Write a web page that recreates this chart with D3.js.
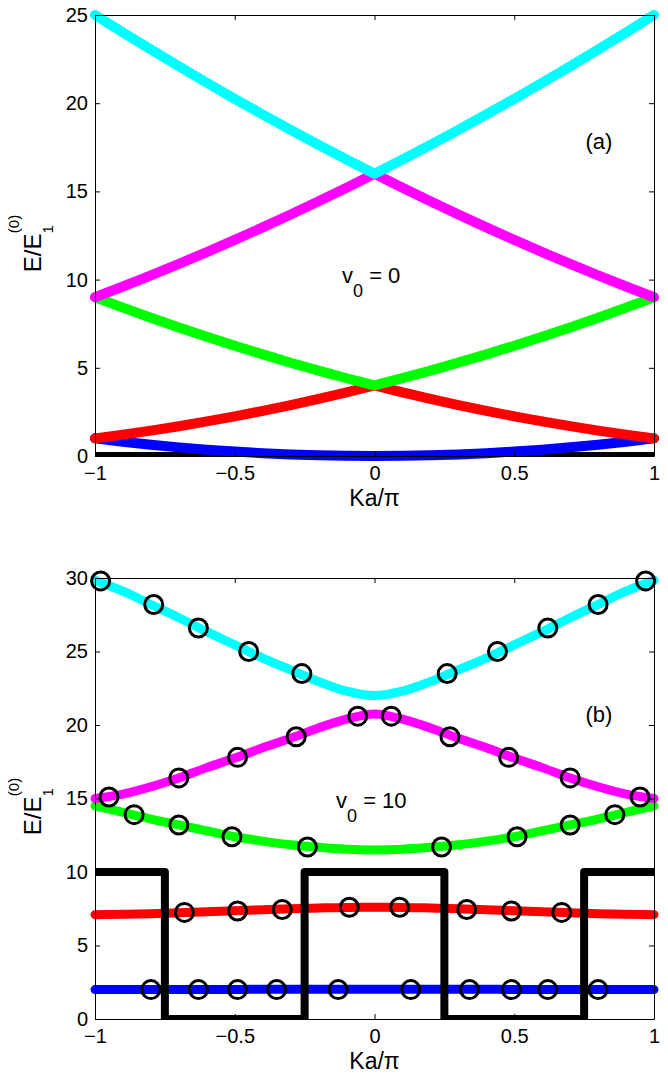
<!DOCTYPE html>
<html>
<head>
<meta charset="utf-8">
<script src="https://cdn.jsdelivr.net/npm/d3@7"></script>
<style>
  body { margin: 0; background: #fff; }
  svg { display: block; font-family: "Liberation Sans", Arial, Helvetica, sans-serif; }
</style>
</head>
<body>
<div id="chart"></div>
<script>
// wave vector grid, Ka/pi
const kGrid = [-1, -0.9, -0.8, -0.7, -0.6, -0.5, -0.4, -0.3, -0.2, -0.1, 0, 0.1, 0.2, 0.3, 0.4, 0.5, 0.6, 0.7, 0.8, 0.9, 1];

// panel (a), v0 = 0
const bandA1 = [1.0, 0.81, 0.64, 0.49, 0.36, 0.25, 0.16, 0.09, 0.04, 0.01, 0, 0.01, 0.04, 0.09, 0.16, 0.25, 0.36, 0.49, 0.64, 0.81, 1.0];
const bandA2 = [1.0, 1.21, 1.44, 1.69, 1.96, 2.25, 2.56, 2.89, 3.24, 3.61, 4.0, 3.61, 3.24, 2.89, 2.56, 2.25, 1.96, 1.69, 1.44, 1.21, 1.0];
const bandA3 = [9.0, 8.41, 7.84, 7.29, 6.76, 6.25, 5.76, 5.29, 4.84, 4.41, 4.0, 4.41, 4.84, 5.29, 5.76, 6.25, 6.76, 7.29, 7.84, 8.41, 9.0];
const bandA4 = [9.0, 9.61, 10.24, 10.89, 11.56, 12.25, 12.96, 13.69, 14.44, 15.21, 16.0, 15.21, 14.44, 13.69, 12.96, 12.25, 11.56, 10.89, 10.24, 9.61, 9.0];
const bandA5 = [25.0, 24.01, 23.04, 22.09, 21.16, 20.25, 19.36, 18.49, 17.64, 16.81, 16.0, 16.81, 17.64, 18.49, 19.36, 20.25, 21.16, 22.09, 23.04, 24.01, 25.0];
const potAx = [-1, 1];
const potAy = [0, 0];

// panel (b), v0 = 10
const bandB1 = [2.0, 2.0, 2.0, 2.0, 2.01, 2.01, 2.02, 2.02, 2.03, 2.03, 2.03, 2.03, 2.03, 2.02, 2.02, 2.01, 2.01, 2.0, 2.0, 2.0, 2.0];
const bandB2 = [7.1, 7.12, 7.16, 7.22, 7.29, 7.36, 7.43, 7.5, 7.55, 7.59, 7.6, 7.59, 7.55, 7.5, 7.43, 7.36, 7.29, 7.22, 7.16, 7.12, 7.1];
const bandB3 = [14.5, 14.05, 13.6, 13.2, 12.8, 12.4, 12.1, 11.85, 11.68, 11.55, 11.5, 11.55, 11.68, 11.85, 12.1, 12.4, 12.8, 13.2, 13.6, 14.05, 14.5];
const bandB4 = [15.0, 15.3, 15.8, 16.4, 17.1, 17.75, 18.45, 19.1, 19.8, 20.4, 20.75, 20.4, 19.8, 19.1, 18.45, 17.75, 17.1, 16.4, 15.8, 15.3, 15.0];
const bandB5 = [29.85, 29.1, 28.2, 27.3, 26.35, 25.45, 24.55, 23.75, 22.95, 22.3, 22.0, 22.3, 22.95, 23.75, 24.55, 25.45, 26.35, 27.3, 28.2, 29.1, 29.85];
const potBx = [-1, -0.75, -0.75, -0.25, -0.25, 0.25, 0.25, 0.75, 0.75, 1];
const potBy = [10, 10, 0, 0, 10, 10, 0, 0, 10, 10];

// open circles in panel (b)
const circB1x = [-0.8, -0.63, -0.49, -0.35, -0.13, 0.13, 0.34, 0.49, 0.62, 0.8];
const circB1y = [2.0, 2.0, 2.0, 2.0, 2.0, 2.0, 2.0, 2.0, 2.0, 2.0];
const circB2x = [-0.68, -0.49, -0.33, -0.09, 0.09, 0.33, 0.49, 0.67];
const circB2y = [7.25, 7.35, 7.45, 7.6, 7.6, 7.45, 7.35, 7.25];
const circB3x = [-0.86, -0.7, -0.51, -0.24, 0.24, 0.51, 0.7, 0.86];
const circB3y = [13.9, 13.2, 12.4, 11.7, 11.7, 12.4, 13.2, 13.9];
const circB4x = [-0.95, -0.7, -0.49, -0.28, -0.06, 0.06, 0.27, 0.48, 0.7, 0.95];
const circB4y = [15.1, 16.4, 17.8, 19.2, 20.6, 20.6, 19.2, 17.8, 16.4, 15.1];
const circB5x = [-0.98, -0.79, -0.63, -0.45, -0.26, 0.26, 0.44, 0.62, 0.8, 0.97];
const circB5y = [29.8, 28.2, 26.6, 25.0, 23.5, 23.5, 25.0, 26.6, 28.2, 29.8];

const xTicks = [-1, -0.5, 0, 0.5, 1];
const yTicksA = [0, 5, 10, 15, 20, 25];
const yTicksB = [0, 5, 10, 15, 20, 25, 30];

const bandColors = ["#0000ff", "#ff0000", "#00ff00", "#ff00ff", "#00ffff"];

const W = 668, H = 1074;
const svg = d3.select("#chart").append("svg")
    .attr("width", W)
    .attr("height", H);

const fmt = d3.format("~g");

function drawPanel(opt) {
    const left = 95, right = 654;
    const x = d3.scaleLinear().domain([-1, 1]).range([left, right]);
    const y = d3.scaleLinear().domain(opt.yDomain).range([opt.bottom, opt.top]);
    const g = svg.append("g");

    const clipId = "clip" + opt.name;
    svg.append("clipPath").attr("id", clipId)
        .append("rect")
        .attr("x", left).attr("y", opt.top)
        .attr("width", right - left).attr("height", opt.bottom - opt.top);

    const smooth = d3.line()
        .x(d => x(d[0]))
        .y(d => y(d[1]))
        .curve(opt.curve);

    if (opt.potFirst) drawPot();

    opt.bands.forEach((b, i) => {
        g.append("path")
            .datum(kGrid.map((k, j) => [k, b[j]]))
            .attr("d", smooth)
            .attr("fill", "none")
            .attr("stroke", bandColors[i])
            .attr("stroke-width", opt.bandWidth)
            .attr("stroke-linecap", "round")
            .attr("stroke-linejoin", "round");
    });

    if (!opt.potFirst) drawPot();

    function drawPot() {
        const potLine = d3.line().x(d => x(d[0])).y(d => y(d[1]));
        g.append("path")
            .datum(opt.potX.map((v, j) => [v, opt.potY[j]]))
            .attr("d", potLine)
            .attr("clip-path", "url(#" + clipId + ")")
            .attr("fill", "none")
            .attr("stroke", "#000")
            .attr("stroke-width", 8)
            .attr("stroke-linejoin", "round");
    }

    (opt.circles || []).forEach(c => {
        g.selectAll(null)
            .data(c[0].map((v, j) => [v, c[1][j]]))
            .enter()
            .append("circle")
            .attr("cx", d => x(d[0]))
            .attr("cy", d => y(d[1]))
            .attr("r", 9)
            .attr("fill", "none")
            .attr("stroke", "#000")
            .attr("stroke-width", 3);
    });

    // axes, ticks pointing inward like matlab
    g.append("g").attr("transform", `translate(0,${opt.bottom})`)
        .call(d3.axisBottom(x).tickValues(xTicks).tickFormat(fmt).tickSizeInner(-5).tickSizeOuter(0).tickPadding(10));
    g.append("g").attr("transform", `translate(0,${opt.top})`)
        .call(d3.axisTop(x).tickValues(xTicks).tickFormat("").tickSizeInner(-5).tickSizeOuter(0));
    g.append("g").attr("transform", `translate(${left},0)`)
        .call(d3.axisLeft(y).tickValues(opt.yTicks).tickFormat(fmt).tickSizeInner(-5).tickSizeOuter(0).tickPadding(7));
    g.append("g").attr("transform", `translate(${right},0)`)
        .call(d3.axisRight(y).tickValues(opt.yTicks).tickFormat("").tickSizeInner(-5).tickSizeOuter(0));
    g.selectAll(".domain").attr("stroke", "#000").attr("stroke-width", 1);
    g.selectAll(".tick line").attr("stroke", "#000");
    g.selectAll(".tick text").attr("font-size", 20).attr("fill", "#000")
        .attr("font-family", "'Liberation Sans', Arial, sans-serif");

    // x label
    g.append("text")
        .attr("x", (left + right) / 2)
        .attr("y", opt.bottom + 50)
        .attr("text-anchor", "middle")
        .attr("font-size", 23)
        .text("Ka/π");

    // y label E/E_1^(0)
    const yl = g.append("text")
        .attr("transform", `translate(41,${(opt.top + opt.bottom) / 2 + 8}) rotate(-90)`)
        .attr("text-anchor", "middle")
        .attr("font-size", 24);
    yl.append("tspan").text("E/E");
    yl.append("tspan").attr("font-size", 15).attr("dy", 12).text("1");
    yl.append("tspan").attr("font-size", 15).attr("dx", -8).attr("dy", -34).text("(0)");

    // panel tag
    g.append("text")
        .attr("x", 599)
        .attr("y", opt.tagY)
        .attr("text-anchor", "middle")
        .attr("font-size", 22)
        .text(opt.tag);

    // v0 note
    const vt = g.append("text")
        .attr("x", opt.vX)
        .attr("y", opt.vY)
        .attr("font-size", 22);
    vt.append("tspan").text("v");
    vt.append("tspan").attr("font-size", 18).attr("dy", 14).text("0");
    vt.append("tspan").attr("dy", -14).text(" = " + opt.vVal);
}

drawPanel({
    name: "a",
    top: 15, bottom: 456,
    yDomain: [0, 25],
    yTicks: yTicksA,
    bands: [bandA1, bandA2, bandA3, bandA4, bandA5],
    bandWidth: 10,
    curve: d3.curveLinear,
    potX: potAx, potY: potAy,
    potFirst: true,
    tag: "(a)", tagY: 149,
    vVal: "0", vX: 342, vY: 283
});

drawPanel({
    name: "b",
    top: 578, bottom: 1019,
    yDomain: [0, 30],
    yTicks: yTicksB,
    bands: [bandB1, bandB2, bandB3, bandB4, bandB5],
    bandWidth: 9,
    curve: d3.curveMonotoneX,
    potX: potBx, potY: potBy,
    potFirst: false,
    circles: [[circB1x, circB1y], [circB2x, circB2y], [circB3x, circB3y], [circB4x, circB4y], [circB5x, circB5y]],
    tag: "(b)", tagY: 722,
    vVal: "10", vX: 336, vY: 808
});
</script>
</body>
</html>
